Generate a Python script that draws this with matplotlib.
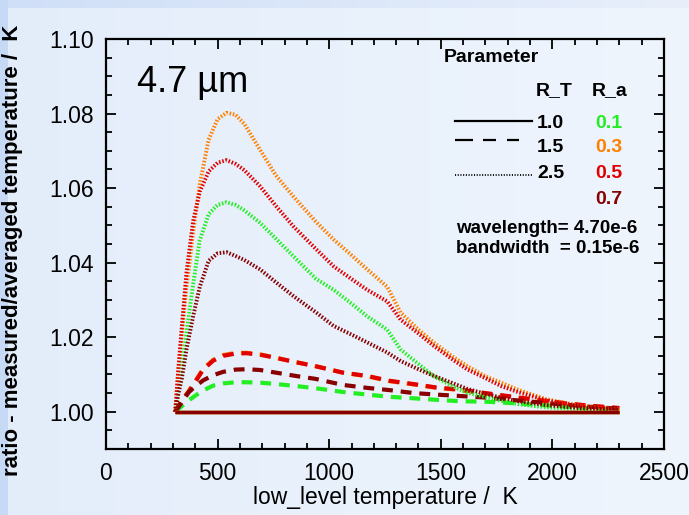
import numpy as np
import matplotlib
matplotlib.use("Agg")
import matplotlib.pyplot as plt
from matplotlib.lines import Line2D
from matplotlib.colors import to_rgb
from matplotlib.ticker import MultipleLocator

# ---- data -----------------------------------------------------------
r_a_values = ["0.1", "0.3", "0.5", "0.7"]
r_t_values = ["1.0", "1.5", "2.5"]
series_colors = ["#22ee22", "#ff8000", "#e00000", "#880000"]

# R_T = 1.0 : ratio stays at unity for every R_a
T_solid = [310, 2300]
solid_vals = [[1.0, 1.0], [1.0, 1.0], [1.0, 1.0], [1.0, 1.0]]

# R_T = 1.5
T_dash = [310, 340, 370, 400, 435, 480, 525, 580, 630, 690, 750, 850, 940,
          1060, 1170, 1270, 1380, 1480, 1590, 1700, 1850, 2000, 2150, 2300]
dash_green = [1.0, 1.0015, 1.0030, 1.0043, 1.0057, 1.0070, 1.0076, 1.0079,
              1.0079, 1.0078, 1.0075, 1.0069, 1.0063, 1.0053, 1.0046, 1.0040,
              1.0036, 1.0032, 1.0028, 1.0027, 1.0022, 1.0016, 1.0010, 1.0005]
dash_orange = [1.0, 1.0031, 1.0055, 1.0082, 1.0115, 1.0139, 1.0152, 1.0158,
               1.0158, 1.0154, 1.0146, 1.0133, 1.0122, 1.0105, 1.0095, 1.0082,
               1.0073, 1.0064, 1.0058, 1.0049, 1.0037, 1.0026, 1.0016, 1.0009]
dash_red = [1.0, 1.0030, 1.0053, 1.0080, 1.0113, 1.0137, 1.0150, 1.0156,
            1.0157, 1.0153, 1.0146, 1.0133, 1.0122, 1.0105, 1.0096, 1.0083,
            1.0074, 1.0065, 1.0059, 1.0050, 1.0038, 1.0027, 1.0017, 1.0010]
dash_darkred = [1.0, 1.0025, 1.0052, 1.0068, 1.0084, 1.0098, 1.0107, 1.0113,
                1.0114, 1.0112, 1.0106, 1.0096, 1.0088, 1.0072, 1.0064, 1.0058,
                1.0050, 1.0046, 1.0042, 1.0038, 1.0030, 1.0022, 1.0014, 1.0008]

# R_T = 2.5
T_dot = [310, 325, 340, 360, 390, 420, 460, 500, 540, 580, 620, 690, 760, 840,
         940, 1020, 1100, 1170, 1260, 1320, 1400, 1470, 1560, 1620, 1700, 1770,
         1850, 1970, 2120, 2300]
dot_green = [1.000, 1.006, 1.012, 1.021, 1.034, 1.046, 1.053, 1.0555, 1.0562,
             1.0555, 1.054, 1.0507, 1.0465, 1.0417, 1.0357, 1.0327, 1.0290,
             1.0256, 1.0220, 1.0167, 1.0128, 1.0095, 1.0066, 1.0051, 1.0040,
             1.0029, 1.0020, 1.0012, 1.0007, 1.0004]
dot_orange = [1.000, 1.012, 1.021, 1.033, 1.048, 1.061, 1.073, 1.0785, 1.0802,
              1.0797, 1.0772, 1.0703, 1.0635, 1.0577, 1.0510, 1.0462, 1.0420,
              1.0382, 1.0335, 1.0266, 1.0220, 1.0185, 1.0145, 1.0122, 1.0095,
              1.0078, 1.0058, 1.0034, 1.0016, 1.0006]
dot_red = [1.000, 1.012, 1.023, 1.037, 1.051, 1.059, 1.0645, 1.0668, 1.0675,
           1.0665, 1.0648, 1.0605, 1.0553, 1.0497, 1.0437, 1.0390, 1.0356,
           1.0327, 1.0296, 1.0247, 1.0210, 1.0176, 1.0137, 1.0113, 1.0090,
           1.0069, 1.0052, 1.0031, 1.0015, 1.0006]
dot_darkred = [1.000, 1.005, 1.009, 1.0165, 1.0255, 1.0335, 1.0405, 1.0425,
               1.0428, 1.0418, 1.0407, 1.0382, 1.0348, 1.0310, 1.0267, 1.0230,
               1.0207, 1.0186, 1.0159, 1.0136, 1.0114, 1.0096, 1.0075, 1.0061,
               1.0048, 1.0038, 1.0028, 1.0018, 1.0010, 1.0005]

dash_vals = [dash_green, dash_orange, dash_red, dash_darkred]
dot_vals = [dot_green, dot_orange, dot_red, dot_darkred]

wavelength_text = "wavelength= 4.70e-6"
bandwidth_text = "bandwidth  = 0.15e-6"
band_label = "4.7 µm"

# ---- figure ---------------------------------------------------------
W, H = 689, 515
fig = plt.figure(figsize=(W / 100, H / 100), dpi=100)

# soft left-to-right background shading with a bluer left and top edge
bg = fig.add_axes([0, 0, 1, 1], zorder=-10)
bg.set_axis_off()
t = np.linspace(0, 1, W)[None, :, None]
c0, c1 = np.array(to_rgb("#e3edfa")), np.array(to_rgb("#eff5fd"))
img = np.repeat(c0 + (c1 - c0) * t, H, axis=0)
s0, s1 = np.array(to_rgb("#cfdff7")), np.array(to_rgb("#e8effb"))
img[:8, :, :] = (s0 + (s1 - s0) * t)[0]
img[:, :8, :] = to_rgb("#c6daf6")
bg.imshow(img, aspect="auto", extent=(0, 1, 0, 1), interpolation="nearest")

ax_l, ax_r, ax_t, ax_b = 106, 664, 39, 449
ax = fig.add_axes([ax_l / W, 1 - ax_b / H, (ax_r - ax_l) / W, (ax_b - ax_t) / H])
ax.set_facecolor("none")

font = "Liberation Sans"

for c, v in zip(series_colors, solid_vals):
    ax.plot(T_solid, v, color=c, lw=2.4, solid_capstyle="butt", zorder=3)
for c, v in zip(series_colors, dash_vals):
    ax.plot(T_dash, v, color=c, lw=3.0, dashes=(2.6, 1.9), zorder=2)
for c, v in zip(series_colors, dot_vals):
    ax.plot(T_dot, v, color=c, lw=2.8, dashes=(0.4, 0.45), zorder=2)

ax.set_xlim(0, 2500)
ax.set_ylim(0.99, 1.10)
ax.xaxis.set_major_locator(MultipleLocator(500))
ax.xaxis.set_minor_locator(MultipleLocator(100))
ax.yaxis.set_minor_locator(MultipleLocator(0.005))
ax.tick_params(which="both", direction="in", top=True, right=True,
               width=1.3, colors="black")
ax.tick_params(which="major", length=7, labelsize=16.5, pad=9)
ax.tick_params(which="minor", length=4)
ax.set_yticks([1.00, 1.02, 1.04, 1.06, 1.08, 1.10])
ax.set_yticklabels(["1.00", "1.02", "1.04", "1.06", "1.08", "1.10"])
for lab in ax.get_xticklabels() + ax.get_yticklabels():
    lab.set_fontfamily(font)
for s in ax.spines.values():
    s.set_linewidth(1.6)

ax.set_xlabel("low_level temperature /  K", fontsize=16.5, family=font,
              labelpad=1)
ax.set_ylabel("ratio - measured/averaged temperature /  K", fontsize=16,
              family=font, weight="bold")
ax.yaxis.set_label_coords((23 - ax_l) / (ax_r - ax_l),
                          (ax_b - 250) / (ax_b - ax_t))


def fx(px):
    return px / W


def fy(py):
    return 1 - py / H


fig.text(fx(137), fy(83), band_label, fontsize=26, family=font,
         ha="left", va="center")

fig.text(fx(444), fy(58), "Parameter", fontsize=14, family=font,
         weight="bold", ha="left", va="center")
fig.text(fx(536), fy(91), "R_T", fontsize=14, family=font,
         weight="bold", ha="left", va="center")
fig.text(fx(592), fy(91), "R_a", fontsize=14, family=font,
         weight="bold", ha="left", va="center")

# line-style key
fig.add_artist(Line2D([fx(455), fx(532)], [fy(121), fy(121)],
                      transform=fig.transFigure, color="black", lw=1.6))
for xa, xb in [(455, 473), (483, 496), (507, 519)]:
    fig.add_artist(Line2D([fx(xa), fx(xb)], [fy(140), fy(140)],
                          transform=fig.transFigure, color="black", lw=1.6,
                          solid_capstyle="butt"))
fig.add_artist(Line2D([fx(455), fx(532)], [fy(175), fy(175)],
                      transform=fig.transFigure, color="black", lw=1.3,
                      dashes=(0.6, 0.9)))

for yy, txt in zip([124, 148, 174], r_t_values):
    fig.text(fx(537), fy(yy), txt, fontsize=14, family=font, weight="bold",
             ha="left", va="center")
for yy, txt, c in zip([124, 148, 174, 199], r_a_values, series_colors):
    fig.text(fx(595), fy(yy), txt, fontsize=14, family=font, weight="bold",
             color=c, ha="left", va="center")

fig.text(fx(456), fy(228), wavelength_text, fontsize=13.5, family=font,
         weight="bold", ha="left", va="center")
fig.text(fx(456), fy(249), bandwidth_text, fontsize=13.5, family=font,
         weight="bold", ha="left", va="center")

fig.savefig("out.png", dpi=100)
